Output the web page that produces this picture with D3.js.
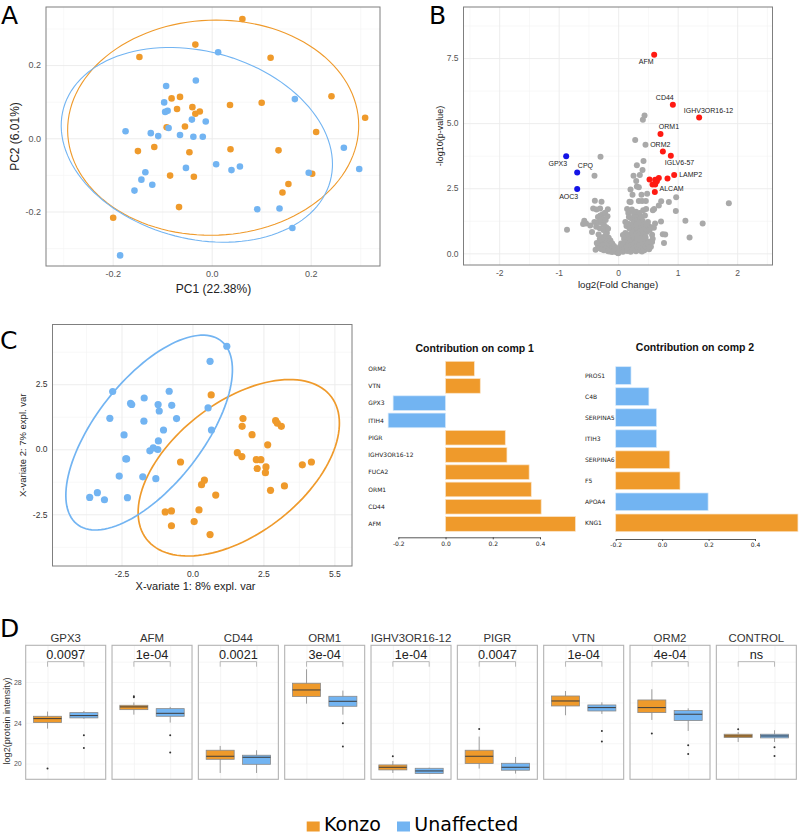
<!DOCTYPE html>
<html>
<head>
<meta charset="utf-8">
<script src="https://cdn.jsdelivr.net/npm/d3@7"></script>
<style>
  html, body { margin: 0; padding: 0; background: #fff; overflow: hidden; }
  svg { display: block; }
  text { font-family: "Liberation Sans", Arial, sans-serif; }
</style>
</head>
<body>
<div id="chart"></div>
<script>
const ORANGE = "#ef9a2b"
const BLUE = "#72b4f2"

// Panel A - PCA scores (PC1, PC2)
const pcaKonzo = [[.062,.326],[-.033,.256],[-.146,.222],[.119,.220],[.242,.115],[.310,.056],[.101,.097],[.037,.091],
  [-.081,.109],[-.064,.113],[-.070,.080],[-.039,.085],[-.033,.067],[-.024,.073],[-.054,.032],[-.091,.030],[.211,.017],
  [-.116,-.024],[-.149,-.035],[-.045,-.038],[.038,-.030],[.135,-.033],[-.084,-.102],[-.036,-.105],[.203,-.097],
  [.155,-.125],[.143,-.148],[-.066,-.188],[-.199,-.217]]
const pcaUnaffected = [[.013,.235],[-.032,.158],[-.092,.143],[.168,.107],[-.096,.098],[-.094,.072],[-.089,.075],
  [-.040,.051],[-.012,.046],[-.087,.028],[-.174,.019],[-.123,.014],[-.108,.006],[-.064,.009],[-.037,.004],[-.018,.004],
  [.267,-.026],[.009,-.071],[.057,-.077],[.040,-.087],[-.052,-.081],[.298,-.084],[.196,-.094],[-.134,-.093],
  [-.142,-.113],[-.120,-.127],[-.156,-.143],[.092,-.194],[.137,-.192],[.163,-.245],[-.185,-.320]]
// ellipses: cx, half width, cy, half height, phase
const pcaEllipseKonzo = [.003, .294, .029, .294, .02]
const pcaEllipseUnaffected = [-.030, .274, -.018, .266, -.2]

// Panel B - volcano (log2FC, -log10 p)
const volcanoUp = [[.605,7.63],[.919,5.71],[1.361,5.22],[.711,4.58],[.751,3.91],[.885,3.75],[.941,3.01],[.829,2.87],
  [.683,2.89],[.527,2.84],[.622,2.83],[.65,2.77],[.577,2.64],[.622,2.64],[.616,2.36]]
const volcanoDown = [[-.874,3.73],[-.689,3.10],[-.689,2.47]]
const volcanoOther = [[.443,5.29],[.415,5.13],[.286,4.35],[.459,4.17],[-.297,3.71],[.426,3.55],[.314,3.38],[-.398,2.98],
  [.409,3.2],[.258,2.98],[.364,3.01],[.303,2.78],[.314,2.57],[.347,2.54],[.207,2.45],[.241,2.25],[.392,2.25],[.487,2.29],
  [.975,2.15],[1.86,1.92],[-.392,2.02],[-.28,1.98],[.19,1.98],[.21,1.97],[.347,2.01],[.403,2.01],[.465,2.01],[.723,2.0],
  [.852,1.97],[.683,1.84],[.605,1.70],[.583,1.65],[.969,1.63],[-.42,1.72],[-.364,1.68],[-.303,1.72],[-.174,1.69],
  [1.13,1.25],[1.42,1.15],[1.2,.61],[.77,.4],[.75,.73],[.79,.72],[.72,1.22],[-.86,.91],[-.57,1.25],[-.59,1.13],[-.54,1.15],
  [-.47,1.07],[-.44,.82],[-.4,1.2],
  [-.37,1.02],[-.34,1.4],[-.33,1.2],[-.31,.96],[-.3,1.45],[-.28,1.18],[-.27,1.35],[-.26,1.5],[-.25,.9],[-.24,1.1],
  [-.22,1.56],[-.21,1.28],[-.2,1.0],[-.19,.78],[-.18,1.42],[-.17,.94],[-.33,.72],[-.31,.55],[-.29,.42],[-.27,.62],
  [-.25,.33],[-.23,.52],[-.21,.7],[-.19,.45],[-.18,.28],[-.16,.6],[-.15,.38],[-.14,.2],[-.13,.49],[-.12,.3],[-.11,.12],
  [-.1,.38],[-.09,.22],[-.08,.1],[-.07,.28],[-.06,.15],[-.05,.07],[-.04,.2],[-.03,.05],[-.02,.1],[-.01,.02],[0,.0],[.01,.03],
  [-.38,.14],[-.34,.3],[-.36,.4],[-.31,.2],[-.28,.16],[-.24,.12],[-.2,.15],[-.17,.08],[-.14,.07],[-.1,.05],
  [.15,1.7],[.17,1.55],[.2,1.62],[.23,1.68],[.27,1.5],[.3,1.6],[.33,1.45],[.36,1.55],[.39,1.4],[.42,1.65],[.45,1.45],
  [.47,1.7],[.18,1.4],[.22,1.35],[.25,1.3],[.29,1.38],[.32,1.28],[.37,1.3],[.41,1.25],
  [.12,1.2],[.14,1.05],[.16,1.15],[.19,.95],[.21,1.1],[.23,.9],[.25,1.15],[.27,1.0],[.29,.85],[.31,1.1],[.33,.95],
  [.35,1.18],[.37,.85],[.39,1.05],[.41,.9],[.43,1.1],[.45,.95],[.48,.82],[.51,1.05],[.53,.9],[.56,1.0],[.6,.98],[.5,1.2],
  [.62,1.15],[.47,1.12],
  [.08,.7],[.1,.55],[.12,.78],[.13,.62],[.15,.47],[.17,.72],[.18,.55],[.2,.42],[.22,.66],[.24,.78],[.25,.5],[.27,.62],
  [.29,.44],[.31,.75],[.33,.55],[.35,.68],[.37,.42],[.39,.58],[.42,.72],[.44,.48],[.46,.62],[.5,.45],[.57,.71],[.58,.56],[.57,.44],
  [.03,.25],[.05,.12],[.05,.38],[.07,.2],[.08,.06],[.09,.32],[.11,.14],[.12,.4],[.14,.25],[.15,.09],[.17,.33],[.19,.18],
  [.21,.06],[.22,.3],[.24,.12],[.26,.37],[.28,.2],[.3,.08],[.32,.28],[.34,.14],[.36,.32],[.38,.1],[.4,.22],[.42,.36],
  [.44,.12],[.46,.26],[.49,.38],[.52,.16],[.55,.25],[.4,.07]]
const volcanoNames = ["AFM","CD44","IGHV3OR16-12","ORM1","ORM2","GPX3","CPQ","IGLV6-57","LAMP2","ALCAM","AOC3"]
const volcanoNameX = [.347,.633,1.104,.683,.538,-1.171,-.678,.784,1.025,.695,-.992]
const volcanoNameY = [7.36,5.97,5.49,4.85,4.17,3.46,3.37,3.48,3.01,2.48,2.19]

// Panel C - PLS-DA scores
const plsKonzo = [[.66,2.09],[1.78,1.18],[2.93,1.10],[2.99,1.0],[3.13,.88],[1.75,.88],[2.10,.56],[2.65,.17],[1.58,-.13],
  [1.74,-.28],[2.25,-.40],[2.41,-.40],[2.59,-.68],[2.28,-.74],[2.57,-.90],[-.42,-.49],[3.87,-.60],[4.19,-.49],[.42,-1.19],
  [.32,-1.36],[3.24,-1.41],[2.75,-1.58],[.82,-1.76],[.23,-2.33],[-.74,-2.37],[-.96,-2.41],[.06,-2.78],[-.74,-2.94],[.62,-3.28]]
const plsUnaffected = [[1.21,3.96],[.62,3.38],[-2.81,2.22],[-.82,2.23],[-1.70,1.97],[-2.18,1.76],[-2.14,1.72],[-1.21,1.72],
  [-.73,1.69],[.55,1.59],[-1.17,1.47],[-2.91,1.19],[-.56,1.18],[-1.71,1.08],[.67,.74],[-1.02,.74],[-2.41,.55],[-1.20,.32],
  [-1.38,.05],[-1.50,-.06],[-1.22,-.01],[-2.35,-.37],[-2.32,-.37],[-2.58,-1.03],[-1.75,-1.06],[-1.29,-1.13],[-3.35,-1.67],
  [-3.62,-1.85],[-3.10,-1.94],[-2.29,-1.86]]
const plsEllipseKonzo = [1.631, 3.545, -.712, 3.391, .53]
const plsEllipseUnaffected = [-1.526, 2.934, .641, 3.744, .70]

// Panel C - loadings
const comp1Names = ["ORM2","VTN","GPX3","ITIH4","PIGR","IGHV3OR16-12","FUCA2","ORM1","CD44","AFM"]
const comp1Values = [.122,.147,-.222,-.243,.253,.260,.354,.363,.405,.55]
const comp1Groups = ["K","K","U","U","K","K","K","K","K","K"]
const comp2Names = ["PROS1","C4B","SERPINA5","ITIH3","SERPINA6","F5","APOA4","KNG1"]
const comp2Values = [-.134,-.057,-.024,-.024,.033,.077,.198,.585]
const comp2Groups = ["U","U","U","U","K","K","U","K"]

// Panel D - boxplots, stats are [whisker low, q1, median, q3, whisker high]
const proteins = ["GPX3","AFM","CD44","ORM1","IGHV3OR16-12","PIGR","VTN","ORM2","CONTROL"]
const pLabels = ["0.0097","1e-04","0.0021","3e-04","1e-04","0.0047","1e-04","4e-04","ns"]
const groups = ["Konzo","Unaffected"]
const konzoStats = [[23.43,24.02,24.41,24.64,25.10],[24.8,25.29,25.56,25.72,26.0],[19.08,20.42,20.72,21.31,21.73],
  [25.88,26.57,27.22,27.88,29.25],[19.08,19.38,19.64,19.87,20.26],[19.51,20,20.72,21.31,22.65],
  [24.74,25.65,26.14,26.63,27.12],[24.28,25,25.49,26.24,27.29],[22.12,22.55,22.71,22.88,23.1]]
const unaffectedStats = [[24.4,24.48,24.71,25.0,25.16],[24.02,24.64,24.93,25.39,25.56],[19.08,19.93,20.62,20.82,21.31],
  [24.8,25.62,26.11,26.6,27.16],[19.0,19.02,19.28,19.54,19.6],[19.02,19.35,19.64,20.03,20.65],
  [24.87,25.16,25.49,25.75,26.01],[23.2,24.22,24.84,25.2,25.42],[22.12,22.52,22.71,22.88,23.27]]
const konzoOutliers = [[19.51],[26.5,26.6],[],[],[20.72],[23.4],[],[22.94],[23.37]]
const unaffectedOutliers = [[22.78,21.54],[22.78,21.08],[],[23.95,21.67],[],[],[23.2,22.16],[21.8,20.95],[21.6,20.75]]

const svg = d3.select("#chart").append("svg")
  .attr("width", 800)
  .attr("height", 835)

function panelLetter(txt, x, y) {
  svg.append("text").attr("x", x).attr("y", y).text(txt)
    .style("font-family", "'DejaVu Sans'").style("font-size", "25px").attr("fill", "#000")
}
panelLetter("A", 1, 23.5)
panelLetter("B", 429, 23.5)
panelLetter("C", 0, 349)
panelLetter("D", 0, 637)

// frame + grid + axes shared by the three scatter panels
function scatterFrame(o) {
  const g = svg.append("g")
  const x = d3.scaleLinear().domain(o.xDomain).range([o.left, o.right])
  const y = d3.scaleLinear().domain(o.yDomain).range([o.bottom, o.top])
  const w = o.right - o.left
  const h = o.bottom - o.top

  g.append("g").attr("transform", `translate(0,${o.bottom})`)
    .call(d3.axisBottom(x).tickValues(o.xMinor).tickFormat("").tickSize(-h))
    .call(s => s.select(".domain").remove())
    .selectAll("line").attr("stroke", "#f4f4f4").attr("stroke-width", .6)
  g.append("g").attr("transform", `translate(${o.left},0)`)
    .call(d3.axisLeft(y).tickValues(o.yMinor).tickFormat("").tickSize(-w))
    .call(s => s.select(".domain").remove())
    .selectAll("line").attr("stroke", "#f4f4f4").attr("stroke-width", .6)
  g.append("g").attr("transform", `translate(0,${o.bottom})`)
    .call(d3.axisBottom(x).tickValues(o.xTicks).tickFormat("").tickSize(-h))
    .call(s => s.select(".domain").remove())
    .selectAll("line").attr("stroke", "#ebebeb").attr("stroke-width", .9)
  g.append("g").attr("transform", `translate(${o.left},0)`)
    .call(d3.axisLeft(y).tickValues(o.yTicks).tickFormat("").tickSize(-w))
    .call(s => s.select(".domain").remove())
    .selectAll("line").attr("stroke", "#ebebeb").attr("stroke-width", .9)

  g.append("rect").attr("x", o.left).attr("y", o.top).attr("width", w).attr("height", h)
    .attr("fill", "none").attr("stroke", "#7f7f7f").attr("stroke-width", 1)

  // tick labels
  g.append("g").attr("transform", `translate(0,${o.bottom})`)
    .call(d3.axisBottom(x).tickValues(o.xTicks).tickFormat((d, i) => o.xLabels[i]).tickSize(0).tickPadding(o.xPad))
    .call(s => s.select(".domain").remove())
    .selectAll("text").style("font-size", o.tickSize + "px").attr("fill", o.tickColor)
  g.append("g").attr("transform", `translate(${o.left},0)`)
    .call(d3.axisLeft(y).tickValues(o.yTicks).tickFormat((d, i) => o.yLabels[i]).tickSize(0).tickPadding(o.yPad))
    .call(s => s.select(".domain").remove())
    .selectAll("text").style("font-size", o.tickSize + "px").attr("fill", o.tickColor)

  g.append("text").attr("x", o.xTitleX).attr("y", o.xTitleY).attr("text-anchor", "middle")
    .text(o.xTitle).style("font-size", o.xTitleSize + "px").attr("fill", "#222")
  g.append("text").attr("transform", `translate(${o.yTitleX},${(o.top + o.bottom) / 2}) rotate(-90)`)
    .attr("text-anchor", "middle").text(o.yTitle).style("font-size", o.yTitleSize + "px").attr("fill", "#222")
  return { g, x, y }
}

function dots(p, pts, color, r) {
  p.g.append("g").selectAll("circle").data(pts).enter().append("circle")
    .attr("cx", d => p.x(d[0])).attr("cy", d => p.y(d[1])).attr("r", r).attr("fill", color)
}

function ellipse(p, e, color, sw) {
  const [cx, rx, cy, ry, ph] = e
  const line = d3.line().x(t => p.x(cx + rx * Math.cos(t))).y(t => p.y(cy + ry * Math.sin(t + ph)))
    .curve(d3.curveLinearClosed)
  p.g.append("path").attr("d", line(d3.range(0, 2 * Math.PI, .05)))
    .attr("fill", "none").attr("stroke", color).attr("stroke-width", sw)
}

// A
const pA = scatterFrame({
  left: 46, right: 380, top: 7, bottom: 266,
  xDomain: [-.3347, .34], yDomain: [-.349, .3587],
  xTicks: [-.2, 0, .2], xLabels: ["-0.2", "0.0", "0.2"], xMinor: [-.3, -.1, .1, .3],
  yTicks: [-.2, 0, .2], yLabels: ["-0.2", "0.0", "0.2"], yMinor: [-.3, -.1, .1, .3],
  tickSize: 9, tickColor: "#555", xPad: 5, yPad: 5,
  xTitle: "PC1 (22.38%)", xTitleX: 213.5, xTitleY: 293, xTitleSize: 12,
  yTitle: "PC2 (6.01%)", yTitleX: 19, yTitleSize: 12
})
ellipse(pA, pcaEllipseKonzo, ORANGE, 1.1)
ellipse(pA, pcaEllipseUnaffected, BLUE, 1.1)
dots(pA, pcaKonzo, ORANGE, 3.3)
dots(pA, pcaUnaffected, BLUE, 3.3)

// B
const pB = scatterFrame({
  left: 463.5, right: 772.5, top: 7, bottom: 265,
  xDomain: [-2.6, 2.594], yDomain: [-.448, 9.46],
  xTicks: [-2, -1, 0, 1, 2], xLabels: ["-2", "-1", "0", "1", "2"], xMinor: [-2.5, -1.5, -.5, .5, 1.5, 2.5],
  yTicks: [0, 2.5, 5, 7.5], yLabels: ["0.0", "2.5", "5.0", "7.5"], yMinor: [1.25, 3.75, 6.25, 8.75],
  tickSize: 8.5, tickColor: "#555", xPad: 5, yPad: 5,
  xTitle: "log2(Fold Change)", xTitleX: 618, xTitleY: 288, xTitleSize: 9.7,
  yTitle: "-log10(p-value)", yTitleX: 443, yTitleSize: 9
})
dots(pB, volcanoOther, "#a9a9a9", 3)
dots(pB, volcanoUp, "#ff1a12", 3)
dots(pB, volcanoDown, "#1414e6", 3)
pB.g.append("g").selectAll("text").data(volcanoNames).enter().append("text")
  .attr("x", (d, i) => pB.x(volcanoNameX[i])).attr("y", (d, i) => pB.y(volcanoNameY[i]))
  .attr("dy", ".35em").text(d => d).style("font-size", "7px").attr("fill", "#222")

// C
const pC = scatterFrame({
  left: 52.5, right: 352, top: 324.5, bottom: 566,
  xDomain: [-4.93, 5.62], yDomain: [-4.487, 4.795],
  xTicks: [-2.5, 0, 2.5, 5], xLabels: ["-2.5", "0.0", "2.5", "5.5"], xMinor: [-3.75, -1.25, 1.25, 3.75],
  yTicks: [-2.5, 0, 2.5], yLabels: ["-2.5", "0.0", "2.5"], yMinor: [-3.75, -1.25, 1.25, 3.75],
  tickSize: 8.5, tickColor: "#333", xPad: 5, yPad: 5,
  xTitle: "X-variate 1: 8% expl. var", xTitleX: 195.5, xTitleY: 590, xTitleSize: 11,
  yTitle: "X-variate 2: 7% expl. var", yTitleX: 26, yTitleSize: 9.5
})
ellipse(pC, plsEllipseKonzo, ORANGE, 1.7)
ellipse(pC, plsEllipseUnaffected, BLUE, 1.7)
dots(pC, plsKonzo, ORANGE, 3.6)
dots(pC, plsUnaffected, BLUE, 3.6)

// loading bars
function loadingBars(o) {
  const x = d3.scaleLinear().domain([-.2, .4]).range(o.xRange)
  const y = d3.scaleBand().domain(o.names).range(o.yRange).paddingInner(o.pad)
  const g = svg.append("g")
  g.append("text").attr("x", o.titleX).attr("y", o.titleY).attr("text-anchor", "middle")
    .text(o.title).style("font-size", "10.5px").style("font-weight", "bold").attr("fill", "#111")
  g.selectAll("rect").data(o.names).enter().append("rect")
    .attr("x", (d, i) => x(Math.min(o.base, o.values[i])))
    .attr("y", d => y(d))
    .attr("width", (d, i) => Math.abs(x(o.values[i]) - x(o.base)))
    .attr("height", y.bandwidth())
    .attr("fill", (d, i) => o.groups[i] === "K" ? ORANGE : BLUE)
    .attr("stroke", (d, i) => o.groups[i] === "K" ? "#fae3c6" : "#d5e8fb").attr("stroke-width", .7)
  g.selectAll(".nm").data(o.names).enter().append("text").attr("class", "nm")
    .attr("x", o.labelX).attr("y", d => y(d) + y.bandwidth() / 2).attr("dy", ".35em")
    .text(d => d).style("font-family", "'DejaVu Sans'").style("font-size", "6px").attr("fill", "#222")
  const ax = g.append("g").attr("transform", `translate(0,${o.axisY})`)
    .call(d3.axisBottom(x).tickValues([-.2, 0, .2, .4]).tickFormat(d3.format(".1f")).tickSize(2).tickPadding(2).tickSizeOuter(0))
  ax.select(".domain").attr("stroke", "#444").attr("stroke-width", .9)
  ax.selectAll("line").attr("stroke", "#444")
  ax.selectAll("text").style("font-family", "'DejaVu Sans'").style("font-size", "6px").attr("fill", "#222")
    .text(function() { return d3.select(this).text().replace("\u2212", "-") })
}
loadingBars({
  names: comp1Names, values: comp1Values, groups: comp1Groups, base: 0,
  xRange: [398.3, 540], yRange: [361.3, 531.3], pad: .15,
  title: "Contribution on comp 1", titleX: 474.7, titleY: 352,
  labelX: 368.3, axisY: 537.3
})
loadingBars({
  names: comp2Names, values: comp2Values, groups: comp2Groups, base: -.2,
  xRange: [615.7, 755], yRange: [366.7, 531.7], pad: .16,
  title: "Contribution on comp 2", titleX: 695, titleY: 351,
  labelX: 585, axisY: 539
})

// D - one facet per protein
const facetLeft = 25.7, facetPitch = 86.33, facetW = 80, facetTop = 645.3, facetBottom = 779.3
const yBox = d3.scaleLinear().domain([18.46, 31.6]).range([facetBottom, facetTop])
const xBox = d3.scalePoint().domain(groups).range([0, facetW]).padding(.6)
const boxW = 28

proteins.forEach((name, i) => {
  const g = svg.append("g").attr("transform", `translate(${facetLeft + i * facetPitch},0)`)
  g.append("g").attr("transform", `translate(0,${facetBottom})`)
    .call(d3.axisBottom(xBox).tickFormat("").tickSize(-(facetBottom - facetTop)))
    .call(s => s.select(".domain").remove())
    .selectAll("line").attr("stroke", "#efefef").attr("stroke-width", .7)
  g.append("g")
    .call(d3.axisLeft(yBox).tickValues([20, 22, 24, 26, 28, 30]).tickFormat("").tickSize(-facetW))
    .call(s => s.select(".domain").remove())
    .selectAll("line").attr("stroke", "#f2f2f2").attr("stroke-width", .7)
  g.append("rect").attr("y", facetTop).attr("width", facetW).attr("height", facetBottom - facetTop)
    .attr("fill", "none").attr("stroke", "#b3b3b3").attr("stroke-width", 1.1)

  g.append("text").attr("x", facetW / 2).attr("y", 642).attr("text-anchor", "middle")
    .text(name).style("font-size", "11.4px").attr("fill", "#333")

  // significance bracket
  const bx = d3.line()
  g.append("path").attr("fill", "none").attr("stroke", "#aaa").attr("stroke-width", .8)
    .attr("d", bx([[xBox("Konzo"), yBox(29.5)], [xBox("Konzo"), yBox(30)], [xBox("Unaffected"), yBox(30)], [xBox("Unaffected"), yBox(29.5)]]))
  g.append("text").attr("x", facetW / 2).attr("y", yBox(30) - 2.5).attr("text-anchor", "middle")
    .text(pLabels[i]).style("font-size", "12.7px").attr("fill", "#222")

  groups.forEach((grp, j) => {
    const st = j === 0 ? konzoStats[i] : unaffectedStats[i]
    const out = j === 0 ? konzoOutliers[i] : unaffectedOutliers[i]
    const cx = xBox(grp)
    g.append("line").attr("x1", cx).attr("x2", cx).attr("y1", yBox(st[0])).attr("y2", yBox(st[4]))
      .attr("stroke", "#888").attr("stroke-width", .8)
    g.append("rect").attr("x", cx - boxW / 2).attr("width", boxW)
      .attr("y", yBox(st[3])).attr("height", yBox(st[1]) - yBox(st[3]))
      .attr("fill", j === 0 ? ORANGE : BLUE).attr("stroke", "#8a8a8a").attr("stroke-width", .8)
    g.append("line").attr("x1", cx - boxW / 2).attr("x2", cx + boxW / 2).attr("y1", yBox(st[2])).attr("y2", yBox(st[2]))
      .attr("stroke", "#3d3d3d").attr("stroke-width", 1)
    g.selectAll(".o" + j).data(out).enter().append("circle").attr("class", "o" + j)
      .attr("cx", cx).attr("cy", d => yBox(d)).attr("r", 1).attr("fill", "#333")
  })
})

const boxAxis = svg.append("g").attr("transform", `translate(${facetLeft},0)`)
  .call(d3.axisLeft(yBox).tickValues([20, 24, 28]).tickSize(0).tickPadding(4))
boxAxis.select(".domain").remove()
boxAxis.selectAll("text").style("font-size", "7px").attr("fill", "#555")
svg.append("text").attr("transform", "translate(9.5,721) rotate(-90)").attr("text-anchor", "middle")
  .text("log2(protein intensity)").style("font-size", "9.1px").attr("fill", "#333")

// legend
const legendX = [306.7, 397]
const legendTextX = [324, 414.3]
groups.forEach((grp, i) => {
  svg.append("rect").attr("x", legendX[i]).attr("y", 821.5).attr("width", 13).attr("height", 10)
    .attr("fill", i === 0 ? ORANGE : BLUE)
  svg.append("text").attr("x", legendTextX[i]).attr("y", 830.5).text(grp)
    .style("font-family", "'DejaVu Sans'").style("font-size", "19px").attr("fill", "#000")
})
</script>
</body>
</html>
